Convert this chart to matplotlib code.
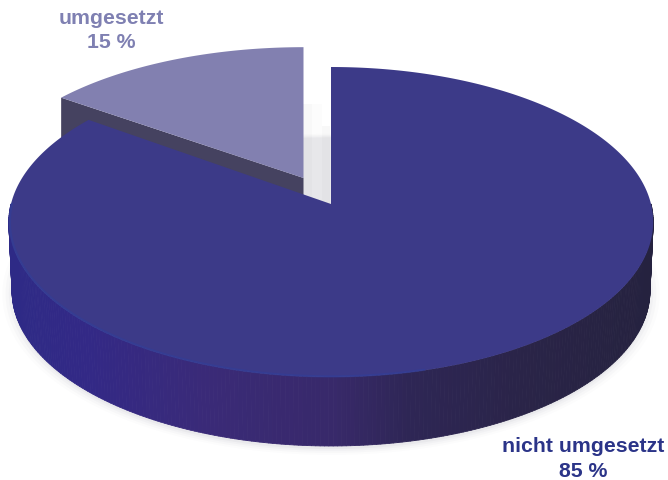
import numpy as np
import matplotlib
matplotlib.use('Agg')
import matplotlib.pyplot as plt
from matplotlib.collections import PolyCollection
from matplotlib.colors import LinearSegmentedColormap

labels = ['nicht umgesetzt', 'umgesetzt']
values = [85, 15]
face_colors = ['#3c3a88', '#8280b0']
text_colors = ['#2b3488', '#7f80b2']

# projection of the unit circle onto the picture, a bit of perspective
def proj(a, r=1.0, dx=0, dy=0, sx=1.0, sy=1.0):
    u = r * np.cos(a)
    v = r * np.sin(a)
    w = 1 + 0.1161 * v
    x = 331 + 320 * sx * u / w
    y = (205 - 129.1 * v) / w
    y = 205 + (y - 205) * sy
    return x + dx, y + dy

fig = plt.figure(figsize=(6.68, 4.81), dpi=100)
ax = fig.add_axes([0, 0, 1, 1])
ax.set_xlim(0, 668)
ax.set_ylim(481, 0)
ax.axis('off')

split = np.radians(90 + 360 * values[1] / sum(values))
start = np.radians(90)
depth = 69

# soft shadow below the disc
circle = np.linspace(0, 2 * np.pi, 300)
for grow, al in zip([1.035, 1.025, 1.015, 1.006], [0.02, 0.03, 0.04, 0.06]):
    sx, sy = proj(circle, r=grow, dy=depth + 2, sx=0.985)
    ax.fill(sx, sy, color='#777788', alpha=al, lw=0, zorder=1)

# shadow in the gap between the slices
for x0, x1, y0, al in [(303, 312, 105, 0.05), (312, 322, 105, 0.015), (322, 330, 127, 0.05)]:
    ax.fill([x0, x1, x1, x0], [y0, y0, 205 - (330 - x1) * 0.35, 205 - (330 - x0) * 0.35],
            color='#777777', alpha=al, lw=0, zorder=1)

# small slice: wall and top
off = dict(dx=-27.5, dy=-26, sy=0.955)
ca_x, ca_y = proj(np.array([split]), **off)
ap_x, ap_y = proj(np.array([0.0]), r=0.0, **off)
ax.fill([ca_x[0], ap_x[0], ap_x[0], ca_x[0]],
        [ca_y[0], ap_y[0], ap_y[0] + depth, ca_y[0] + depth],
        color='#454260', lw=0, zorder=2)
a = np.linspace(start, split, 80)
xs, ys = proj(a, **off)
ax.fill(np.r_[ap_x, xs], np.r_[ap_y, ys], color=face_colors[1], lw=0, zorder=3)

# big slice: wall as narrow strips, colour follows x
wall_cmap = LinearSegmentedColormap.from_list('wall', [
    (0.0, '#2e2a86'), (0.12, '#332986'), (0.3, '#3a2a78'), (0.5, '#38296a'),
    (0.62, '#2e2655'), (0.8, '#2a2448'), (1.0, '#25223f')])
a = np.linspace(np.pi, 2 * np.pi, 260)
tx, ty = proj(a)
bx, by = proj(a, dy=depth, sx=0.99)
quads = []
cols = []
for i in range(len(a) - 1):
    quads.append([(tx[i], ty[i]), (tx[i + 1], ty[i + 1]), (bx[i + 1], by[i + 1]), (bx[i], by[i])])
    cols.append(wall_cmap((tx[i] - tx.min()) / (tx.max() - tx.min())))
ax.add_collection(PolyCollection(quads, facecolors=cols, edgecolors=cols, linewidths=0.6, zorder=4))

# big slice top
a = np.linspace(split, start + 2 * np.pi, 400)
xs, ys = proj(a)
ap2_x, ap2_y = proj(np.array([0.0]), r=0.0)
ax.fill(np.r_[ap2_x, xs], np.r_[ap2_y, ys], color=face_colors[0], lw=0, zorder=5)

# lighter rim on the front edge
a = np.linspace(np.radians(180), np.radians(285), 120)
xs, ys = proj(a, r=0.997)
ax.plot(xs, ys, color='#2f3f9c', lw=1.6, alpha=0.5, zorder=6)

ax.text(583, 459, labels[0] + '\n%d %%' % values[0], ha='center', va='center',
        family='Liberation Sans', weight='bold', fontsize=15.3, color=text_colors[0], linespacing=1.4)
ax.text(111, 30.5, labels[1] + '\n%d %%' % values[1], ha='center', va='center',
        family='Liberation Sans', weight='bold', fontsize=15.3, color=text_colors[1], linespacing=1.4)

fig.savefig('out.png', dpi=100)
